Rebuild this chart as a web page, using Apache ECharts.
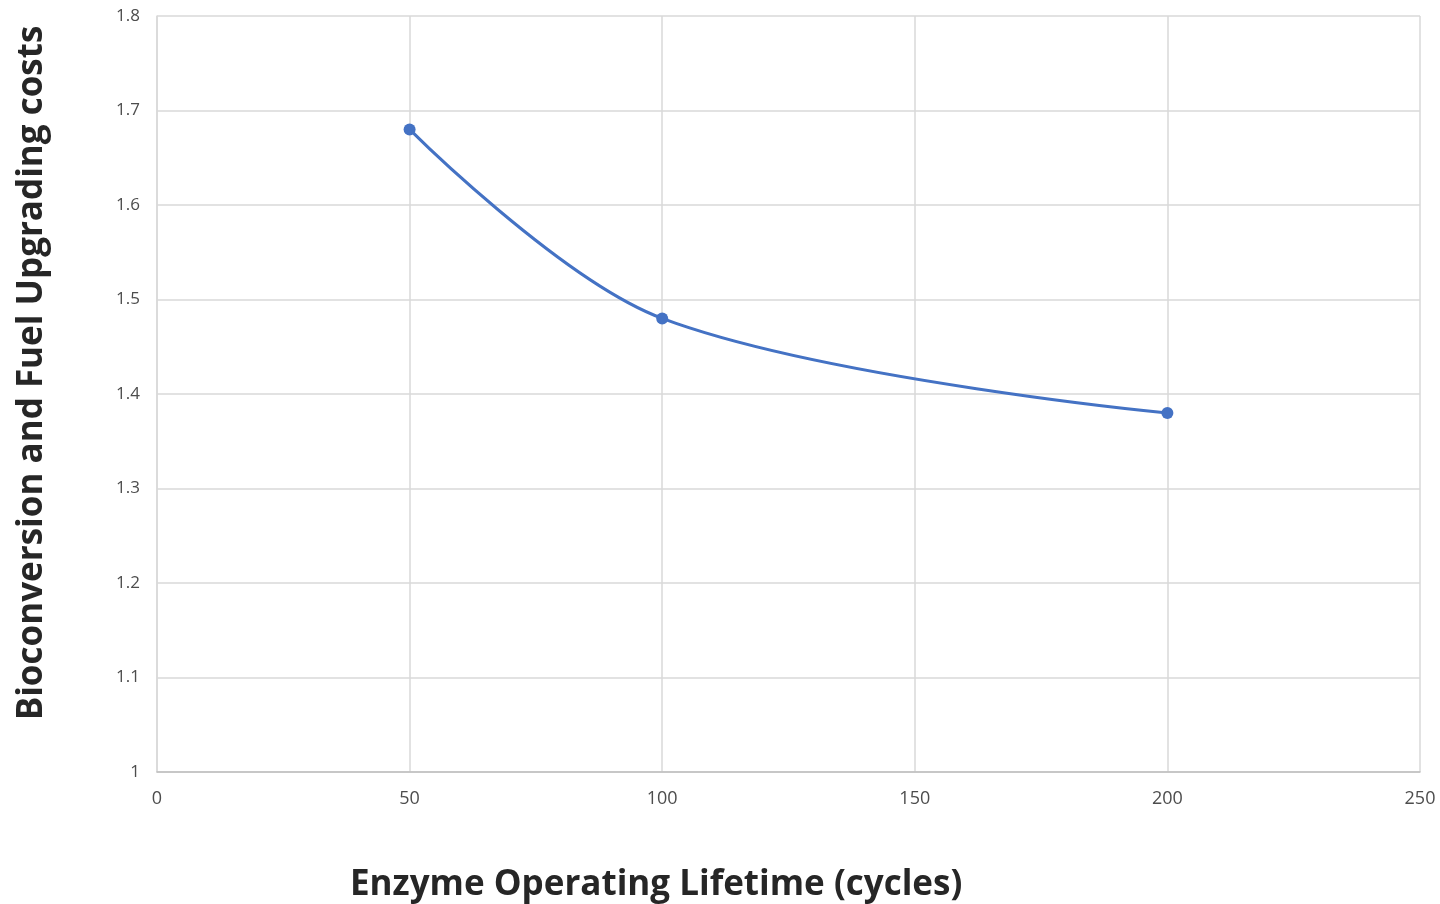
<!DOCTYPE html>
<html>
<head>
<meta charset="utf-8">
<script src="https://cdn.jsdelivr.net/npm/echarts@6/dist/echarts.min.js"></script>
<style>
  html, body { margin: 0; padding: 0; background: #fff; }
  #chart { width: 1440px; height: 904px; }
</style>
</head>
<body>
<div id="chart"></div>
<script>
// enzyme lifetime (cycles) vs cost
const lifetimes = [50, 100, 200];
const costs = [1.68, 1.48, 1.38];

const xTitle = 'Enzyme Operating Lifetime (cycles)';
const yTitle = 'Bioconversion and Fuel Upgrading costs';

const chart = echarts.init(document.getElementById('chart'));

const option = {
  animation: false,
  grid: { left: 157, right: 20, top: 16, bottom: 132 },
  xAxis: {
    type: 'value',
    min: 0,
    max: 250,
    interval: 50,
    axisLine: { show: true, lineStyle: { color: '#bfbfbf', width: 1.5 } },
    axisTick: { show: false },
    axisLabel: { color: '#4d4d4d', fontSize: 18, fontFamily: 'Open Sans', margin: 18 },
    splitLine: { show: true, lineStyle: { color: '#d9d9d9', width: 1.5 } }
  },
  yAxis: {
    type: 'value',
    min: 1,
    max: 1.8,
    interval: 0.1,
    axisLine: { show: true, lineStyle: { color: '#d9d9d9', width: 1.5 } },
    axisTick: { show: false },
    axisLabel: {
      color: '#4d4d4d', fontSize: 17, fontFamily: 'Open Sans', margin: 17,
      formatter: v => String(Math.round(v * 10) / 10)
    },
    splitLine: { show: true, lineStyle: { color: '#d9d9d9', width: 1.5 } }
  },
  graphic: [
    {
      type: 'text',
      left: 350,
      top: 868,
      style: { text: xTitle, fill: '#262626', font: 'bold 35px "Open Sans"' }
    },
    {
      type: 'text',
      x: 32,
      y: 373,
      rotation: Math.PI / 2,
      style: {
        text: yTitle, fill: '#262626', font: 'bold 35px "Open Sans"',
        align: 'center', verticalAlign: 'middle'
      }
    }
  ],
  series: [{
    type: 'line',
    data: lifetimes.map((x, i) => [x, costs[i]]),
    smooth: 0.35,
    symbol: 'circle',
    symbolSize: 12,
    lineStyle: { color: '#4472c4', width: 3 },
    itemStyle: { color: '#4472c4' }
  }]
};

chart.setOption(option);
</script>
</body>
</html>
